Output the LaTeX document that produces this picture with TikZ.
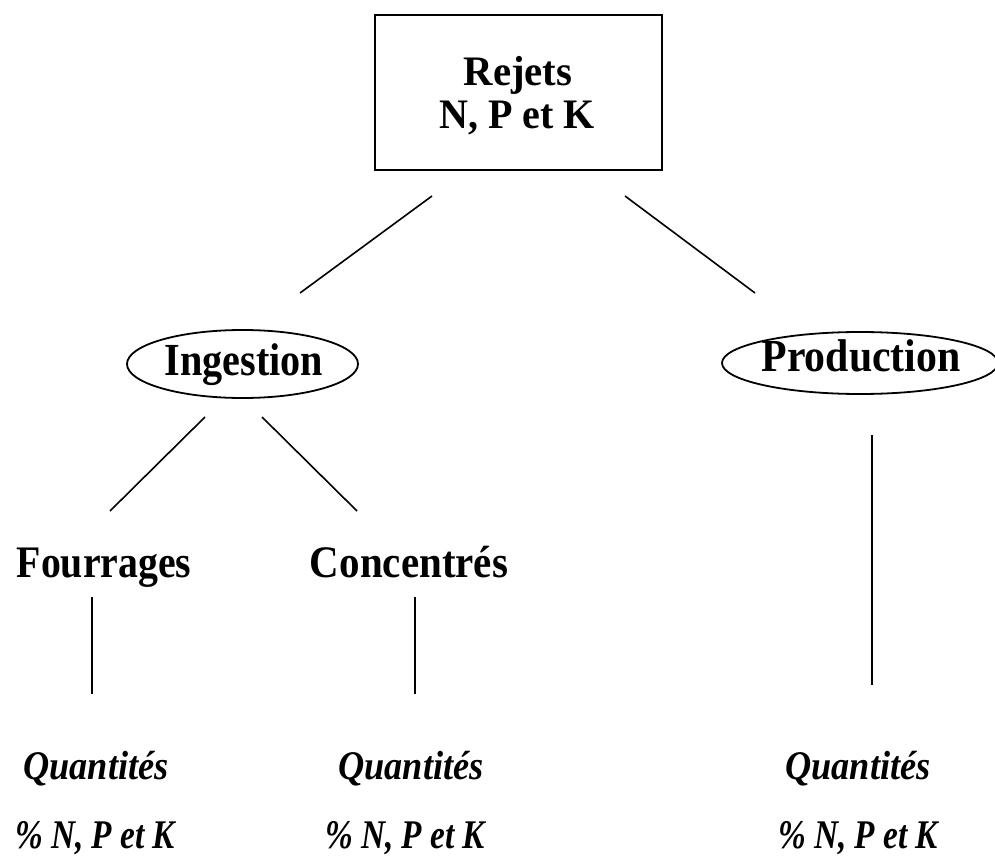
\documentclass[tikz,border=0pt]{standalone}
\usepackage{fontspec}
\setmainfont{Liberation Serif}
\usetikzlibrary{shapes.geometric}
\begin{document}
\begin{tikzpicture}[x=0.5pt,y=-0.5pt,
  lbl/.style={anchor=base, inner sep=0pt},
  bA/.style={lbl, font=\fontsize{20}{24}\selectfont\bfseries},
  bB/.style={lbl, font=\fontsize{20.5}{24}\selectfont\bfseries},
  ital/.style={lbl, font=\fontsize{18.5}{22}\selectfont\bfseries\itshape},
  oval/.style={draw, ellipse, line width=0.9pt, inner sep=0pt},
  conn/.style={line width=0.8pt}]
\useasboundingbox (0,0) rectangle (995,866);
\node[draw, line width=0.9pt, minimum width=287*0.5pt, minimum height=155*0.5pt, inner sep=0pt] (box) at (518.5,92.5) {};
\node[bA] (rej) at (518,86) {\scalebox{1.02}[1.05]{Rejets}};
\node[bA] (npk) at (517,129) {\scalebox{1.0}[1.05]{N, P et K}};
\node[oval, minimum width=231*0.5pt, minimum height=68*0.5pt] (ing) at (242.5,364) {};
\node[bB] (ingt) at (244,375) {\scalebox{0.98}[1.12]{Ingestion}};
\node[oval, minimum width=276*0.5pt, minimum height=62*0.5pt] (prod) at (860,363) {};
\node[bB] (prodt) at (861,371) {\scalebox{1.02}[1.12]{Production}};
\node[bB] (four) at (104,577) {\scalebox{0.97}[1.1]{Fourrages}};
\node[bB] (conc) at (409,577) {\scalebox{1.0}[1.1]{Concentrés}};
\node[ital] (q1) at (96,779) {\scalebox{0.98}[1.1]{Quantités}};
\node[ital] (q2) at (411,779) {\scalebox{0.98}[1.1]{Quantités}};
\node[ital] (q3) at (858,779) {\scalebox{0.98}[1.1]{Quantités}};
\node[ital] (p1) at (95,848) {\scalebox{0.9}[1.1]{\% N, P et K}};
\node[ital] (p2) at (405,848) {\scalebox{0.9}[1.1]{\% N, P et K}};
\node[ital] (p3) at (858,848) {\scalebox{0.9}[1.1]{\% N, P et K}};
\coordinate (a1) at (432,196); \coordinate (a2) at (300,293);
\coordinate (b1) at (625,196); \coordinate (b2) at (755,293);
\coordinate (c1) at (205,417); \coordinate (c2) at (110,511);
\coordinate (d1) at (262,417); \coordinate (d2) at (357,511);
\coordinate (e1) at (92,597); \coordinate (e2) at (92,694);
\coordinate (f1) at (415,597); \coordinate (f2) at (415,694);
\coordinate (g1) at (872,435); \coordinate (g2) at (872,685);
\draw[conn] (a1) -- (a2);
\draw[conn] (b1) -- (b2);
\draw[conn] (c1) -- (c2);
\draw[conn] (d1) -- (d2);
\draw[conn] (e1) -- (e2);
\draw[conn] (f1) -- (f2);
\draw[conn] (g1) -- (g2);
\end{tikzpicture}
\end{document}
